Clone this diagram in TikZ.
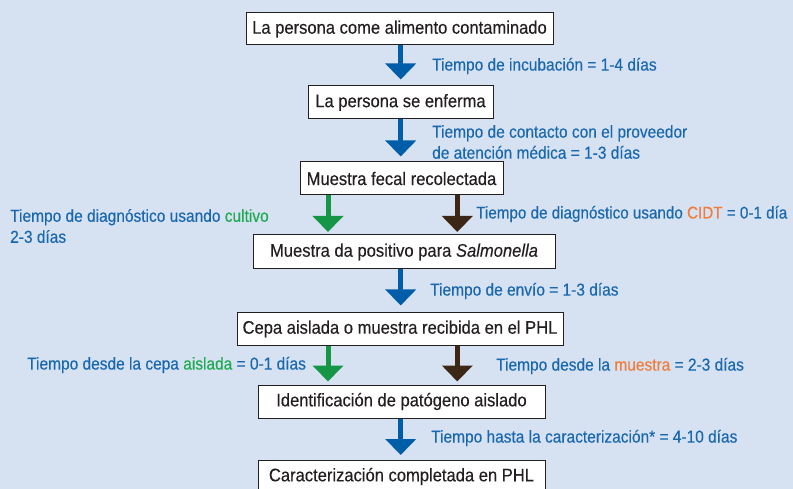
\documentclass[tikz,border=0pt]{standalone}
\usepackage{fontspec}
\setmainfont{Liberation Sans}[FakeStretch=0.91, FakeBold=0.3]
\newfontfamily\lblfont{Liberation Sans}[FakeStretch=0.895, FakeBold=0.3]
\usetikzlibrary{arrows.meta}
\definecolor{bg}{RGB}{214,226,242}
\definecolor{tblue}{RGB}{25,104,175}
\definecolor{ablue}{RGB}{0,94,168}
\definecolor{tgreen}{RGB}{30,170,80}
\definecolor{agreen}{RGB}{20,150,70}
\definecolor{abrown}{RGB}{60,38,22}
\definecolor{torange}{RGB}{240,125,60}
\definecolor{tblack}{RGB}{35,31,32}
\tikzset{
  box/.style={draw=tblack, fill=white, line width=1pt, inner sep=0pt,
    text=tblack, font=\fontsize{18.2}{21}\selectfont},
  lbl/.style={anchor=west, inner sep=0pt, text=tblue, align=left,
    font=\lblfont\fontsize{17.3}{21}\selectfont},
  conn/.style={line width=5pt, -{Triangle[width=30pt,length=16pt]}},
  bconn/.style={conn, draw=ablue, fill=ablue},
  gconn/.style={conn, draw=agreen, fill=agreen},
  rconn/.style={conn, draw=abrown, fill=abrown}
}
\begin{document}
\begin{tikzpicture}[x=1pt,y=-1pt]
\fill[bg] (0,0) rectangle (793,489);
\useasboundingbox (0,0) rectangle (793,489);
\coordinate (bx) at (400.7,0);
\coordinate (gx) at (328,0);
\coordinate (rx) at (457.3,0);
% boxes
\node[box, minimum width=307pt, minimum height=32pt] (b1) at (399.5,29) {La persona come alimento contaminado};
\node[box, minimum width=185pt, minimum height=33pt] (b2) at (400.5,102.5) {La persona se enferma};
\node[box, minimum width=203pt, minimum height=33pt] (b3) at (401.5,178.5) {Muestra fecal recolectada};
\node[box, minimum width=302pt, minimum height=34pt] (b4) at (404,252) {Muestra da positivo para \textit{Salmonella}};
\node[box, minimum width=326pt, minimum height=32pt] (b5) at (400,329) {Cepa aislada o muestra recibida en el PHL};
\node[box, minimum width=287pt, minimum height=33pt] (b6) at (401.5,401.5) {Identificación de patógeno aislado};
\node[box, minimum width=287pt, minimum height=32pt] (b7) at (401.5,476.5) {Caracterización completada en PHL};
% connectors
\draw[bconn, shorten >=6pt] (b1.south -| bx) -- (b2.north -| bx);
\draw[bconn, shorten >=5pt] (b2.south -| bx) -- (b3.north -| bx);
\draw[gconn, shorten >=2.5pt] (b3.south -| gx) -- (b4.north -| gx);
\draw[rconn, shorten >=2.5pt] (b3.south -| rx) -- (b4.north -| rx);
\draw[bconn, shorten >=7pt] (b4.south -| bx) -- (b5.north -| bx);
\draw[gconn, shorten >=3pt] (b5.south -| gx) -- (b6.north -| gx);
\draw[rconn, shorten >=3pt] (b5.south -| rx) -- (b6.north -| rx);
\draw[bconn, shorten >=5pt] (b6.south -| bx) -- (b7.north -| bx);
% labels
\node[lbl] (l1) at (432,66) {Tiempo de incubación = 1-4 días};
\node[lbl] (l2) at (432,142) {Tiempo de contacto con el proveedor\\de atención médica = 1-3 días};
\node[lbl] (l3a) at (10,226) {Tiempo de diagnóstico usando \textcolor{tgreen}{cultivo}\\2-3 días};
\node[lbl, font=\lblfont\fontsize{17}{21}\selectfont] (l3b) at (476,214) {Tiempo de diagnóstico usando \textcolor{torange}{CIDT} = 0-1 día};
\node[lbl] (l4) at (430,291) {Tiempo de envío = 1-3 días};
\node[lbl] (l5a) at (27,365) {Tiempo desde la cepa \textcolor{tgreen}{aislada} = 0-1 días};
\node[lbl] (l5b) at (496,366) {Tiempo desde la \textcolor{torange}{muestra} = 2-3 días};
\node[lbl] (l6) at (431,438) {Tiempo hasta la caracterización* = 4-10 días};
\end{tikzpicture}
\end{document}
